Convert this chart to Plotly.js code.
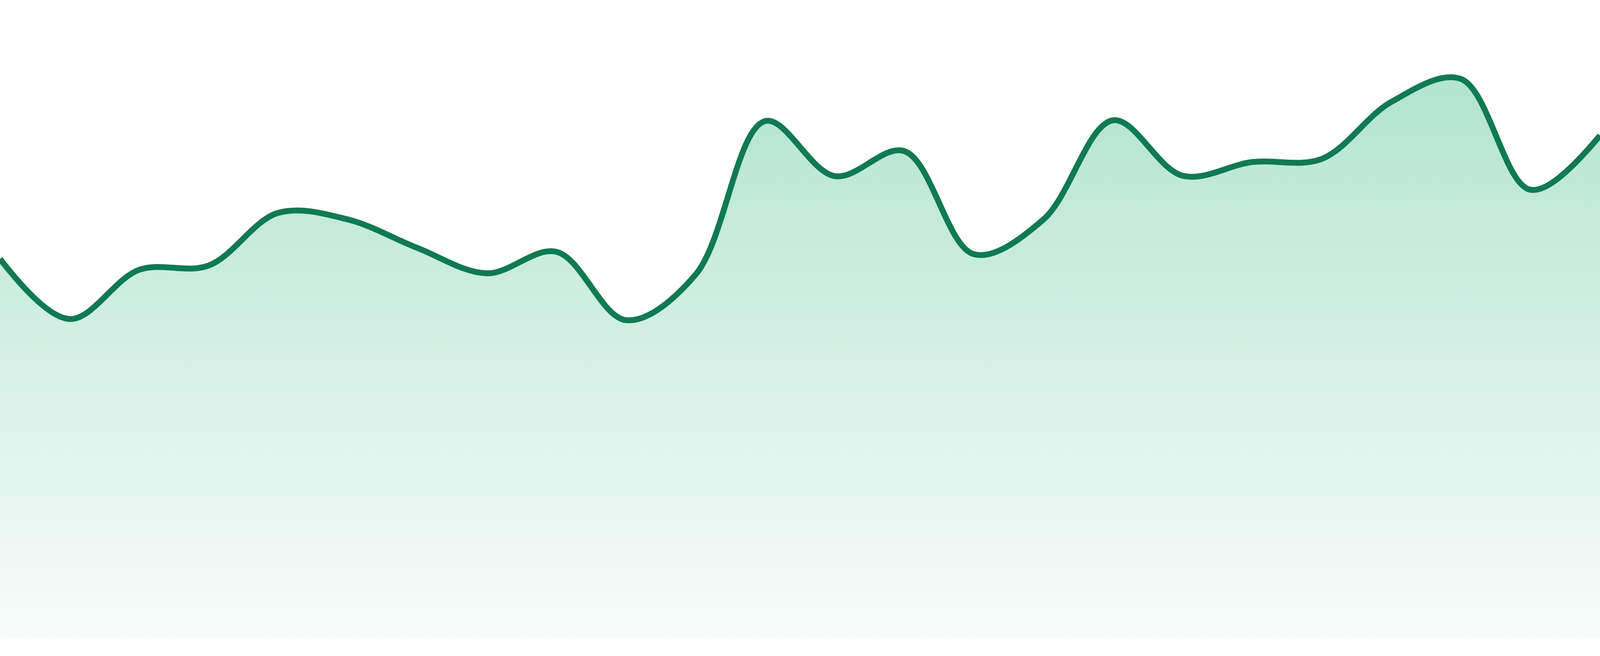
<!DOCTYPE html>
<html>
<head>
<meta charset="utf-8">
<script src="https://cdn.plot.ly/plotly-3.0.1.min.js"></script>
<style>
  html, body { margin: 0; padding: 0; background: #ffffff; overflow: hidden; }
  #myDiv { width: 100vw; height: 100vh; }
</style>
</head>
<body>
<div id="myDiv"></div>
<script>
// 24 evenly spaced samples
const steps = Array.from(new Array(24), (e, i) => i)
const values = [
  969, 815, 941, 952, 1087, 1070, 997, 932, 987, 812, 929, 1322,
  1181, 1245, 981, 1070, 1324, 1182, 1217, 1225, 1371, 1430, 1146, 1285,
]

const lineColor = "#107a50"
const topMax = Math.max(...values)

// the window is not always 4800 wide, so fill whatever we get
const W = window.innerWidth
const H = window.innerHeight

const trace = {
  x: steps,
  y: values,
  type: "scatter",
  mode: "lines",
  line: { color: lineColor, width: 15, shape: "spline", smoothing: 1 },
  fill: "tozeroy",
  fillgradient: {
    type: "vertical",
    start: 0,
    stop: topMax,
    colorscale: [
      [0, "rgba(15,170,110,0.03)"],
      [1, "rgba(15,170,110,0.32)"],
    ],
  },
  hoverinfo: "skip",
}

const layout = {
  width: W,
  height: H,
  margin: { l: 0, r: 0, t: 0, b: Math.round((H * 48) / 1680) },
  paper_bgcolor: "#ffffff",
  plot_bgcolor: "#ffffff",
  showlegend: false,
  xaxis: { range: [0, steps.length - 1], visible: false, fixedrange: true },
  yaxis: { range: [0, 1632], visible: false, fixedrange: true },
}

Plotly.newPlot("myDiv", [trace], layout, { staticPlot: true, displayModeBar: false })
</script>
</body>
</html>
